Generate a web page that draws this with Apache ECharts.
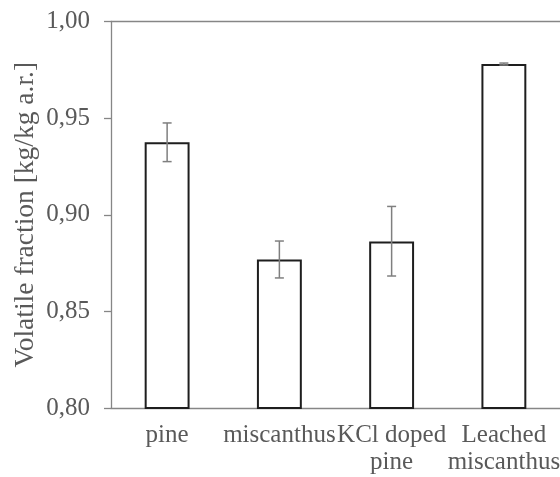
<!DOCTYPE html>
<html>
<head>
<meta charset="utf-8">
<script src="https://cdn.jsdelivr.net/npm/echarts@6/dist/echarts.min.js"></script>
<style>
  html, body { margin: 0; padding: 0; background: #fff; }
  #chart { width: 560px; height: 477px; }
</style>
</head>
<body>
<div id="chart"></div>
<script>
// samples on the x axis
const categories = ['pine', 'miscanthus', 'KCl doped\npine', 'Leached\nmiscanthus']
// volatile fraction, mean value per sample
const volatileMean = [0.9375, 0.8768, 0.8862, 0.9780]
// error bar ends (low / high)
const errLow = [0.9275, 0.8673, 0.8683, 0.9775]
const errHigh = [0.9475, 0.8864, 0.9043, 0.9785]
// y axis ticks
const yMin = 0.80
const yMax = 1.00
const yStep = 0.05

const textColor = '#595959'
const lineColor = '#868686'
const fontFamily = '"Liberation Serif", "Times New Roman", serif'

const chart = echarts.init(document.getElementById('chart'))

const errorData = categories.map((c, i) => [i, errLow[i], errHigh[i]])

chart.setOption({
  animation: false,
  grid: { left: 111, right: 0, top: 21.5, bottom: 69, outerBoundsMode: 'none', containLabel: false },
  xAxis: [
    {
      type: 'category',
      data: categories,
      axisLine: { show: true, lineStyle: { color: lineColor, width: 1.3 } },
      axisTick: { show: false },
      axisLabel: {
        interval: 0,
        margin: 14,
        color: textColor,
        fontFamily: fontFamily,
        fontSize: 25,
        lineHeight: 27
      }
    },
    {
      // top border of the plot area
      type: 'category',
      position: 'top',
      data: categories,
      axisLine: { show: true, lineStyle: { color: lineColor, width: 1.3 } },
      axisTick: { show: false },
      axisLabel: { show: false }
    }
  ],
  yAxis: {
    type: 'value',
    min: yMin,
    max: yMax,
    interval: yStep,
    name: 'Volatile fraction [kg/kg a.r.]',
    nameLocation: 'middle',
    nameGap: 71,
    nameMoveOverlap: false,
    nameTextStyle: { color: textColor, fontFamily: fontFamily, fontSize: 27.5 },
    axisLine: { show: true, lineStyle: { color: lineColor, width: 1.3 } },
    axisTick: { show: true, inside: false, length: 7, lineStyle: { color: lineColor, width: 1.3 } },
    splitLine: { show: false },
    axisLabel: {
      margin: 21,
      color: textColor,
      fontFamily: fontFamily,
      fontSize: 25,
      formatter: v => v.toFixed(2).replace('.', ',')
    }
  },
  series: [
    {
      type: 'bar',
      data: volatileMean,
      barWidth: '40%',
      itemStyle: { color: '#ffffff', borderColor: '#1e1e1e', borderWidth: 2 }
    },
    {
      type: 'custom',
      data: errorData,
      z: 10,
      renderItem(params, api) {
        const x = api.value(0)
        const lo = api.coord([x, api.value(1)])
        const hi = api.coord([x, api.value(2)])
        const w = 4.5
        const style = { stroke: '#7f7f7f', lineWidth: 1.5 }
        return {
          type: 'group',
          children: [
            { type: 'line', shape: { x1: lo[0], y1: lo[1], x2: hi[0], y2: hi[1] }, style },
            { type: 'line', shape: { x1: lo[0] - w, y1: lo[1], x2: lo[0] + w, y2: lo[1] }, style },
            { type: 'line', shape: { x1: hi[0] - w, y1: hi[1], x2: hi[0] + w, y2: hi[1] }, style }
          ]
        }
      }
    }
  ]
})
</script>
</body>
</html>
